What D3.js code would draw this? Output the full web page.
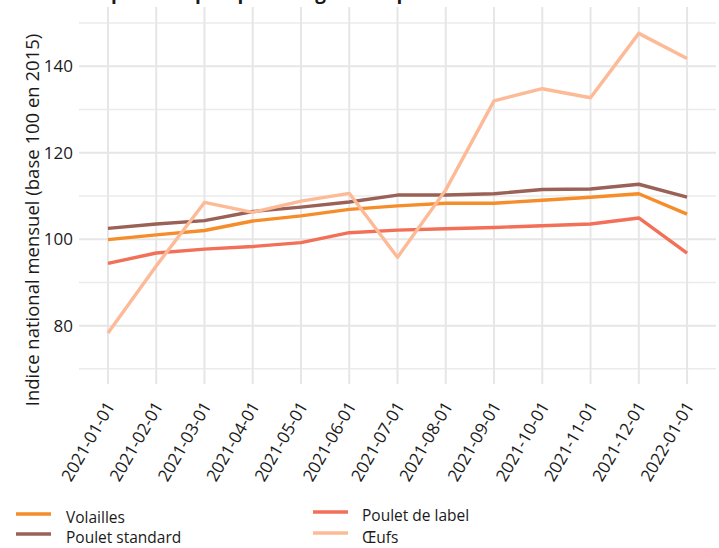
<!DOCTYPE html>
<html>
<head>
<meta charset="utf-8">
<script src="https://cdn.jsdelivr.net/npm/d3@7"></script>
<style>
  body { margin: 0; background: #fff; }
  text { font-family: "Open Sans", "Noto Sans", sans-serif; fill: #1a1a1a; }
</style>
</head>
<body>
<div id="chart"></div>
<script>
// months (x categories)
months = ["2021-01-01", "2021-02-01", "2021-03-01", "2021-04-01", "2021-05-01", "2021-06-01",
          "2021-07-01", "2021-08-01", "2021-09-01", "2021-10-01", "2021-11-01", "2021-12-01", "2022-01-01"];

seriesNames = ["Volailles", "Poulet standard", "Poulet de label", "Œufs"];
seriesColours = ["#f68d2b", "#9a6156", "#f26f58", "#fdba96"];

volailles      = [99.9, 101.0, 102.0, 104.2, 105.4, 106.9, 107.7, 108.3, 108.3, 109.0, 109.7, 110.5, 105.8];
pouletStandard = [102.5, 103.5, 104.3, 106.4, 107.4, 108.6, 110.2, 110.2, 110.5, 111.5, 111.6, 112.7, 109.7];
pouletLabel    = [94.4, 96.8, 97.7, 98.3, 99.2, 101.5, 102.1, 102.4, 102.7, 103.1, 103.5, 104.9, 96.8];
oeufs          = [78.3, 93.8, 108.5, 106.2, 108.8, 110.6, 95.8, 111.4, 132.0, 134.8, 132.7, 147.6, 141.8];

yTicks = [80, 100, 120, 140];
yMinor = [70, 90, 110, 130, 150];

allSeries = [volailles, pouletStandard, pouletLabel, oeufs];

width = 719;
height = 548;
panelLeft = 79;
panelRight = 716;
panelTop = 7;
panelBottom = 384;

svg = d3.select("#chart").append("svg")
    .attr("width", width)
    .attr("height", height);

x = d3.scalePoint()
    .domain(months)
    .range([panelLeft, panelRight])
    .padding(0.6);

y = d3.scaleLinear()
    .domain([66.5, 153.7])
    .range([panelBottom, panelTop]);

// grid
grid = svg.append("g");
grid.selectAll(".minor")
    .data(yMinor).enter()
    .append("line")
    .attr("x1", panelLeft).attr("x2", panelRight)
    .attr("y1", (d) => y(d)).attr("y2", (d) => y(d))
    .attr("stroke", "#ebebeb")
    .attr("stroke-width", 1.5);
grid.selectAll(".major")
    .data(yTicks).enter()
    .append("line")
    .attr("x1", panelLeft).attr("x2", panelRight)
    .attr("y1", (d) => y(d)).attr("y2", (d) => y(d))
    .attr("stroke", "#e6e6e6")
    .attr("stroke-width", 2);
grid.selectAll(".vert")
    .data(months).enter()
    .append("line")
    .attr("x1", (d) => x(d)).attr("x2", (d) => x(d))
    .attr("y1", panelTop).attr("y2", panelBottom)
    .attr("stroke", "#e6e6e6")
    .attr("stroke-width", 2);

// title (cut off at top in the original)
svg.append("text")
    .attr("x", 86)
    .attr("y", -1)
    .style("font-size", "19px")
    .style("font-weight", "bold")
    .text("Impact des prix par catégorie de produit");

// y axis
yAxis = svg.append("g")
    .attr("transform", "translate(" + (panelLeft - 6) + ",0)")
    .call(d3.axisLeft(y).tickValues(yTicks).tickSize(0).tickPadding(0));
yAxis.select(".domain").remove();
yAxis.selectAll("text")
    .style("font-size", "17px")
    .style("font-family", "'Open Sans', sans-serif")
    .attr("fill", "#333");

svg.append("text")
    .attr("transform", "translate(33,220) rotate(-90)")
    .attr("text-anchor", "middle")
    .attr("dy", "0.35em")
    .style("font-size", "18.5px")
    .text("Indice national mensuel (base 100 en 2015)");

// x axis
xAxis = svg.append("g")
    .attr("transform", "translate(0," + panelBottom + ")")
    .call(d3.axisBottom(x).tickSize(0).tickPadding(0));
xAxis.select(".domain").remove();
xAxis.selectAll("text")
    .style("font-size", "17px")
    .style("font-family", "'Open Sans', sans-serif")
    .attr("fill", "#333")
    .attr("text-anchor", "end")
    .attr("dy", null)
    .attr("y", null)
    .attr("transform", "translate(7,22) rotate(-60)");

// lines
line = d3.line()
    .x((d, i) => x(months[i]))
    .y((d) => y(d));

svg.append("g")
    .selectAll("path")
    .data(allSeries).enter()
    .append("path")
    .attr("d", (d) => line(d))
    .attr("fill", "none")
    .attr("stroke", (d, i) => seriesColours[i])
    .attr("stroke-width", 3.4)
    .attr("stroke-linejoin", "round");

// legend
legendPos = [
    {kx: 16, ky: 514, tx: 66, ty: 518},
    {kx: 16, ky: 534, tx: 66, ty: 538},
    {kx: 313, ky: 512, tx: 362, ty: 516},
    {kx: 313, ky: 533, tx: 362, ty: 538}
];
legend = svg.append("g")
    .selectAll("g")
    .data(seriesNames).enter()
    .append("g");
legend.append("line")
    .attr("x1", (d, i) => legendPos[i].kx)
    .attr("x2", (d, i) => legendPos[i].kx + 35)
    .attr("y1", (d, i) => legendPos[i].ky)
    .attr("y2", (d, i) => legendPos[i].ky)
    .attr("stroke", (d, i) => seriesColours[i])
    .attr("stroke-width", 3.5);
legend.append("text")
    .attr("x", (d, i) => legendPos[i].tx)
    .attr("y", (d, i) => legendPos[i].ty)
    .attr("dy", "0.35em")
    .style("font-size", "15.5px")
    .text((d) => d);
</script>
</body>
</html>
